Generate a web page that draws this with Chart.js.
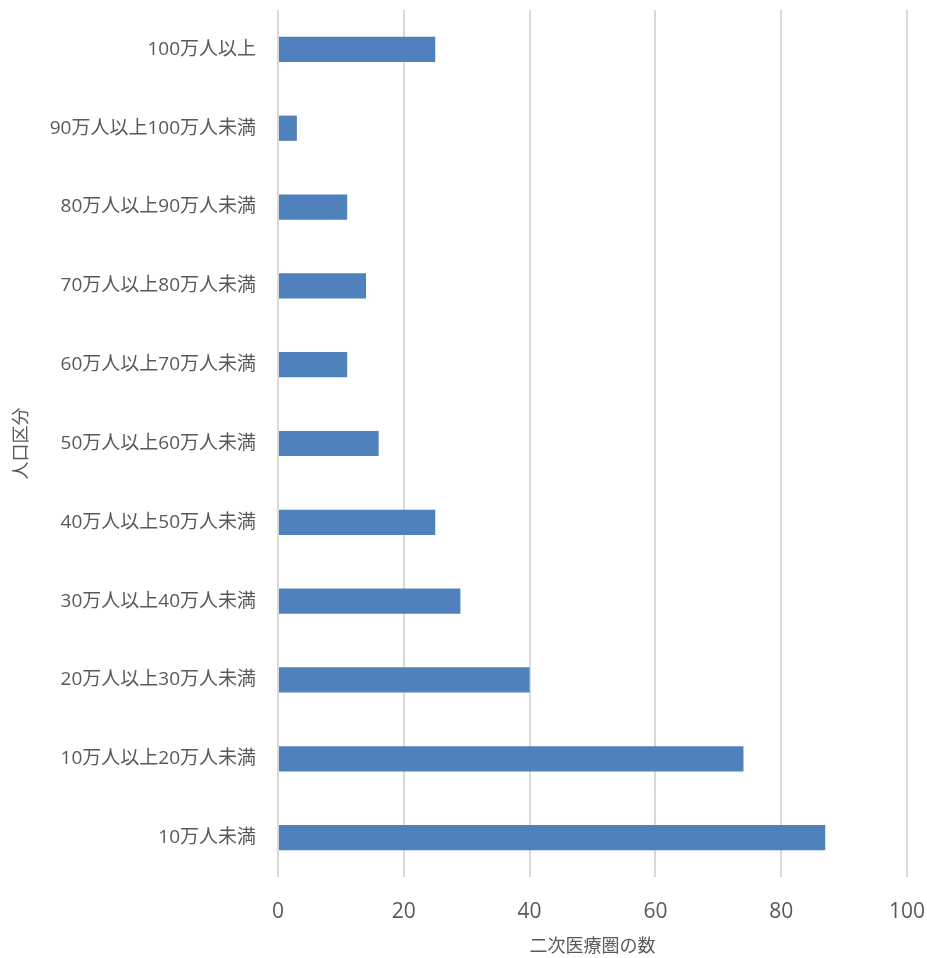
<!DOCTYPE html>
<html>
<head>
<meta charset="utf-8">
<script src="https://cdn.jsdelivr.net/npm/chart.js@4/dist/chart.umd.min.js"></script>
<style>
  html, body { margin: 0; padding: 0; background: #fff; }
  #wrap { width: 927px; height: 958px; }
</style>
</head>
<body>
<div id="wrap"><canvas id="chart" width="927" height="958"></canvas></div>
<script>
// 人口区分ごとの二次医療圏の数
const categories = [
    '100万人以上',
    '90万人以上100万人未満',
    '80万人以上90万人未満',
    '70万人以上80万人未満',
    '60万人以上70万人未満',
    '50万人以上60万人未満',
    '40万人以上50万人未満',
    '30万人以上40万人未満',
    '20万人以上30万人未満',
    '10万人以上20万人未満',
    '10万人未満'
];
const counts = [25, 3, 11, 14, 11, 16, 25, 29, 40, 74, 87];
const xTicks = [0, 20, 40, 60, 80, 100];

const FONT = '"Open Sans", "Noto Sans CJK JP", sans-serif';
const TEXT = '#595959';

new Chart(document.getElementById('chart'), {
    type: 'bar',
    data: {
        labels: categories,
        datasets: [{
            data: counts,
            backgroundColor: '#4F81BD',
            categoryPercentage: 1,
            barPercentage: 0.32
        }]
    },
    options: {
        indexAxis: 'y',
        responsive: false,
        animation: false,
        layout: { padding: { top: 10, right: 20, bottom: 0, left: 11 } },
        plugins: { legend: { display: false }, tooltip: { enabled: false } },
        scales: {
            x: {
                min: 0,
                max: 100,
                afterBuildTicks: axis => { axis.ticks = xTicks.map(v => ({ value: v })); },
                afterFit: axis => {
                    // 端のラベルによる余白は不要
                    axis.height = 81;
                    axis.paddingLeft = 0;
                    axis.paddingRight = 0;
                },
                grid: { color: '#d9d9d9', lineWidth: 2, drawTicks: false },
                border: { display: false },
                ticks: { color: TEXT, font: { family: FONT, size: 21 }, padding: 22 },
                title: {
                    display: true,
                    text: '二次医療圏の数',
                    color: TEXT,
                    font: { family: FONT, size: 18 },
                    padding: { top: 4, bottom: 0 }
                }
            },
            y: {
                afterFit: axis => {
                    axis.width = 267;
                    axis.paddingTop = 0;
                    axis.paddingBottom = 0;
                },
                grid: { display: false, drawTicks: false },
                border: { display: false },
                ticks: { color: TEXT, font: { family: FONT, size: 19 }, padding: 22 },
                title: {
                    display: true,
                    text: '人口区分',
                    color: TEXT,
                    font: { family: FONT, size: 18 },
                    padding: { top: 0, bottom: 0 }
                }
            }
        }
    }
});
</script>
</body>
</html>
